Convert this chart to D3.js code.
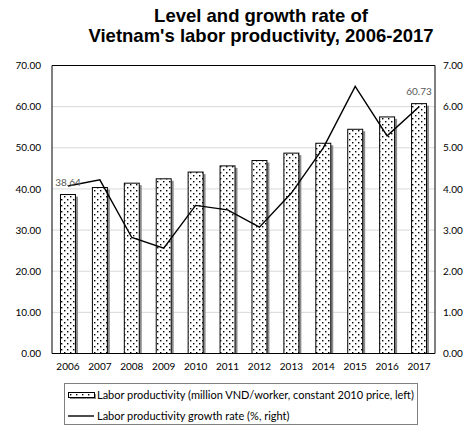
<!DOCTYPE html>
<html><head><meta charset="utf-8">
<script src="https://cdn.jsdelivr.net/npm/d3@7"></script>
<style>
html,body{margin:0;padding:0;background:#fff;}
svg{display:block;font-family:Calibri, Carlito, Lato, "Open Sans", sans-serif;}
</style></head>
<body>
<svg id="chart" width="466" height="428"></svg>
<script>
const years = ["2006","2007","2008","2009","2010","2011","2012","2013","2014","2015","2016","2017"];
const productivity = [38.64, 40.34, 41.4, 42.46, 44.1, 45.6, 46.9, 48.7, 51.1, 54.5, 57.5, 60.73];
const growthRate = [4.07, 4.22, 2.82, 2.56, 3.60, 3.49, 3.07, 3.90, 5.00, 6.49, 5.29, 6.00];
const leftTicks = [0, 10, 20, 30, 40, 50, 60, 70];
const rightTicks = [0, 1, 2, 3, 4, 5, 6, 7];
const titleLines = ["Level and growth rate of", "Vietnam's labor productivity, 2006-2017"];
const legendLabels = ["Labor productivity (million VND/worker, constant 2010 price, left)", "Labor productivity growth rate (%, right)"];
const labeledYears = ["2006", "2017"];

const svg = d3.select("#chart");
const L = 52, R = 435, T = 65.5, B = 353.5;

// pattern
const defs = svg.append("defs");
const pat = defs.append("pattern").attr("id","dots").attr("patternUnits","userSpaceOnUse")
  .attr("width",6).attr("height",6);
pat.append("rect").attr("width",6).attr("height",6).attr("fill","#fff");
pat.append("rect").attr("x",1).attr("y",1).attr("width",1.4).attr("height",1.4).attr("fill","#000");
pat.append("rect").attr("x",4).attr("y",4).attr("width",1.4).attr("height",1.4).attr("fill","#000");

const x = d3.scaleBand().domain(years).range([L, R]).paddingInner(0.5).paddingOuter(0.25);
const yL = d3.scaleLinear().domain([0, 70]).range([B, T]);
const yR = d3.scaleLinear().domain([0, 7]).range([B, T]);

// title
svg.append("g").selectAll("text").data(titleLines).join("text")
  .attr("x", 261).attr("y", (d,i) => 22 + i*20)
  .attr("text-anchor","middle")
  .style("font-family","'Liberation Sans', Arial, sans-serif")
  .style("font-weight","bold").style("font-size","18.5px").attr("fill","#000")
  .text(d => d);

// gridlines
svg.append("g").selectAll("line").data(leftTicks.slice(1, -1)).join("line")
  .attr("x1", L).attr("x2", R).attr("y1", d => yL(d)).attr("y2", d => yL(d))
  .attr("stroke","#d9d9d9").attr("stroke-width",1);

// left axis
const axL = svg.append("g").attr("transform",`translate(${L},0)`)
  .call(d3.axisLeft(yL).tickValues(leftTicks).tickFormat(d3.format(".2f")).tickSize(0).tickPadding(11));
axL.select(".domain").remove();
axL.selectAll("text").style("font-size","10px").style("font-family","Lato, sans-serif").attr("fill","#000");

// right axis
const axR = svg.append("g").attr("transform",`translate(${R},0)`)
  .call(d3.axisRight(yR).tickValues(rightTicks).tickFormat(d3.format(".2f")).tickSize(0).tickPadding(8));
axR.select(".domain").remove();
axR.selectAll("text").style("font-size","10px").style("font-family","Lato, sans-serif").attr("fill","#000");

// bottom axis
const axB = svg.append("g").attr("transform",`translate(0,${B})`)
  .call(d3.axisBottom(x).tickSize(0).tickPadding(9));
axB.select(".domain").remove();
axB.selectAll("text").style("font-size","10px").style("font-family","Lato, sans-serif").attr("fill","#000");

// bars shadow + bars
const bars = svg.append("g");
bars.selectAll("rect.sh").data(years).join("rect").attr("class","sh")
  .attr("x", d => x(d) + 2).attr("y", (d,i) => yL(productivity[i]) + 2)
  .attr("width", x.bandwidth()).attr("height", (d,i) => B - yL(productivity[i]) - 2)
  .attr("fill","#8c8c8c");
bars.selectAll("rect.bar").data(years).join("rect").attr("class","bar")
  .attr("x", d => x(d) + 0.5).attr("y", (d,i) => yL(productivity[i]))
  .attr("width", x.bandwidth() - 1).attr("height", (d,i) => B - yL(productivity[i]))
  .attr("fill","url(#dots)").attr("stroke","#000").attr("stroke-width",1);

// plot frame
svg.append("path").attr("d", `M${L},${B}V${T}H${R}V${B}`).attr("fill","none").attr("stroke","#000").attr("stroke-width",1);
svg.append("line").attr("x1",L).attr("x2",R).attr("y1",B).attr("y2",B).attr("stroke","#000").attr("stroke-width",1.2);

// line
const line = d3.line().x((d,i) => x(years[i]) + x.bandwidth()/2).y(d => yR(d));
svg.append("path").datum(growthRate).attr("d", line)
  .attr("fill","none").attr("stroke","#000").attr("stroke-width",1.4).attr("stroke-linejoin","miter");

// data labels
svg.append("g").selectAll("text").data(labeledYears).join("text")
  .attr("x", d => x(d) + x.bandwidth()/2)
  .attr("y", d => yL(productivity[years.indexOf(d)]) - 8.5)
  .attr("text-anchor","middle").style("font-size","10px").style("font-family","Lato, sans-serif")
  .attr("fill","#595959")
  .text(d => d3.format(".2f")(productivity[years.indexOf(d)]));

// legend
const lg = svg.append("g");
lg.append("rect").attr("x",64.5).attr("y",383.5).attr("width",353).attr("height",41)
  .attr("fill","#fff").attr("stroke","#7f7f7f").attr("stroke-width",1);
lg.append("rect").attr("x",70).attr("y",394).attr("width",26).attr("height",5).attr("fill","#8c8c8c");
lg.append("rect").attr("x",68.5).attr("y",392.5).attr("width",26).attr("height",5)
  .attr("fill","url(#dots)").attr("stroke","#000");
lg.append("line").attr("x1",68).attr("x2",94).attr("y1",416).attr("y2",416).attr("stroke","#000").attr("stroke-width",1.4);
lg.selectAll("text").data(legendLabels).join("text")
  .attr("x",97).attr("y",(d,i) => 399 + i*21)
  .style("font-size","11px").style("font-family","Lato, sans-serif").attr("fill","#000")
  .text(d => d);
</script>
</body></html>
